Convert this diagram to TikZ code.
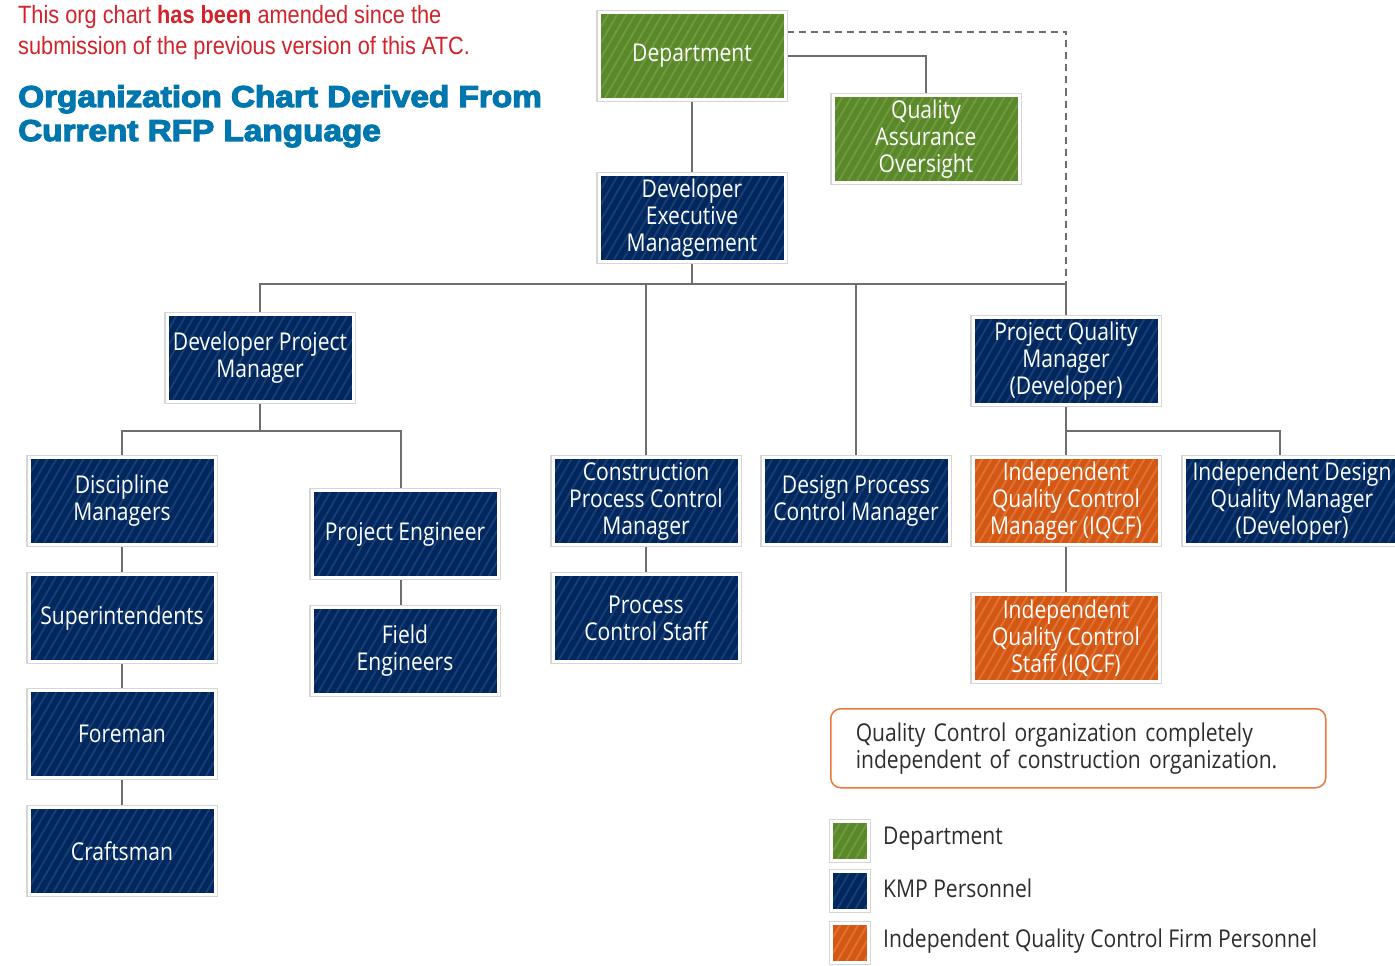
\documentclass[tikz,border=0pt]{standalone}
\usepackage{fontspec}
\setmainfont{Liberation Sans}
\newfontfamily\boxfont[FakeStretch=0.86]{Open Sans}
\newfontfamily\redfont[FakeStretch=0.87]{Liberation Sans}
\newfontfamily\titlefont[BoldFeatures={FakeBold=4,FakeStretch=1.11}]{Liberation Sans}
\usetikzlibrary{shadows}
\pgfdeclarelayer{background}
\pgfsetlayers{background,main}

\definecolor{deptgreen}{RGB}{90,136,42}
\definecolor{deptstripe}{RGB}{110,155,60}
\definecolor{kmpnavy}{RGB}{0,40,94}
\definecolor{kmpstripe}{RGB}{24,62,116}
\definecolor{iqcorange}{RGB}{212,88,20}
\definecolor{iqcstripe}{RGB}{224,114,52}
\definecolor{linegray}{RGB}{110,110,110}
\definecolor{notered}{RGB}{210,35,42}
\definecolor{titleblue}{RGB}{0,118,175}
\definecolor{noteorange}{RGB}{232,120,60}
\definecolor{legendtext}{RGB}{45,45,45}

\tikzset{
  orgbox/.style={draw=white, line width=3pt, minimum width=186pt, minimum height=87pt,
    inner sep=0pt, align=center, text=white,
    font=\boxfont\fontsize{24.5}{27}\selectfont,
    preaction={draw=black!16, line width=5.5pt},
    drop shadow={shadow xshift=1.5pt, shadow yshift=-1.5pt, opacity=0.25, fill=black!60}},
  stripes/.style={path picture={
    \foreach \i in {-130,-121,...,240}
      \draw[line width=1.9pt,#1] ([xshift=\i pt]path picture bounding box.south west) -- ++(130pt,225pt);}},
  dept/.style={orgbox, fill=deptgreen, stripes=deptstripe},
  kmp/.style={orgbox, fill=kmpnavy, stripes=kmpstripe},
  iqcf/.style={orgbox, fill=iqcorange, stripes=iqcstripe},
  swatch/.style={minimum width=37pt, minimum height=39pt},
  legendlabel/.style={anchor=west, inner sep=0pt, text=legendtext,
    font=\boxfont\fontsize{24.5}{27}\selectfont},
  conn/.style={draw=linegray, line width=1.4pt},
}

\begin{document}
\begin{tikzpicture}[x=1pt,y=-1pt]
\useasboundingbox (0,0) rectangle (1395,966);
\begin{pgfonlayer}{background}
  \fill[white] (0,0) rectangle (1395,966);
\end{pgfonlayer}

% heading
\node[anchor=north west, inner sep=0pt, align=left, text=notered,
      font=\redfont\fontsize{25}{31}\selectfont] (amend) at (18,5)
  {This org chart \textbf{has been} amended since the\\submission of the previous version of this ATC.};
\node[anchor=north west, inner sep=0pt, align=left, text=titleblue,
      font=\titlefont\bfseries\fontsize{30}{34}\selectfont] (title) at (18,85)
  {Organization Chart Derived From\\Current RFP Language};

% top of the organization
\node[dept] (dept) at (692,56) {Department};
\node[dept] (qao) at (926,139) {Quality\\Assurance\\Oversight};
\node[kmp] (dem) at (692,218) {Developer\\Executive\\Management};

% second tier
\node[kmp] (dpm) at (260,358) {Developer Project\\Manager};
\node[kmp] (pqm) at (1066,361) {Project Quality\\Manager\\(Developer)};

% third tier
\node[kmp] (dm) at (122,501) {Discipline\\Managers};
\node[kmp] (pe) at (405,534) {Project Engineer};
\node[kmp] (cpcm) at (646,501) {Construction\\Process Control\\Manager};
\node[kmp] (dpcm) at (856,501) {Design Process\\Control Manager};
\node[iqcf] (iqcm) at (1066,501) {Independent\\Quality Control\\Manager (IQCF)};
\node[kmp, minimum width=216pt] (idqm) at (1292,501) {Independent Design\\Quality Manager\\(Developer)};

% lower tiers
\node[kmp] (sup) at (122,618) {Superintendents};
\node[kmp] (fe) at (405,651) {Field\\Engineers};
\node[kmp] (pcs) at (646,618) {Process\\Control Staff};
\node[iqcf] (iqcs) at (1066,638) {Independent\\Quality Control\\Staff (IQCF)};
\node[kmp] (fore) at (122,734) {Foreman};
\node[kmp] (craft) at (122,851) {Craftsman};

% remark box
\node[draw=noteorange, line width=1.5pt, rounded corners=10pt, anchor=north west,
      minimum width=495pt, minimum height=79pt, inner xsep=25pt, inner ysep=0pt,
      text width=445pt, align=left, text=legendtext,
      font=\boxfont\fontsize{24.5}{27}\selectfont] (remark) at (830,708)
  {Quality Control organization completely\\independent of construction organization.};

% legend
\node[dept, swatch] (lgdept) at (850,841) {};
\node[kmp, swatch] (lgkmp) at (850,891) {};
\node[iqcf, swatch] (lgiqcf) at (850,943) {};
\node[legendlabel] (lgdepttxt) at (883,839) {Department};
\node[legendlabel] (lgkmptxt) at (883,888) {KMP Personnel};
\node[legendlabel] (lgiqcftxt) at (883,941) {Independent Quality Control Firm Personnel};

% reporting lines
\coordinate (busR) at (1066,284);
\coordinate (dpmbus) at (260,431);
\coordinate (pqmbus) at (1066,431);
\begin{pgfonlayer}{background}
  \draw[conn] (dept.south) -- (dem.north);
  \draw[conn] (dept.east) -| (qao.north);
  \draw[conn, dash pattern=on 7pt off 5pt] ([yshift=24pt]dept.east) -| (busR);
  \draw[conn] (dem.south) -- (dem.south |- busR);
  \draw[conn] (dpm.north) |- (busR) -- (pqm.north);
  \draw[conn] (cpcm.north) -- (cpcm.north |- busR);
  \draw[conn] (dpcm.north) -- (dpcm.north |- busR);
  \draw[conn] (dpm.south) -- (dpmbus);
  \draw[conn] (dm.north) |- (dpmbus) -| ([xshift=-4pt]pe.north);
  \draw[conn] (pqm.south) -- (iqcm.north);
  \draw[conn] (pqmbus) -| ([xshift=-12pt]idqm.north);
  \draw[conn] (dm.south) -- (sup.north);
  \draw[conn] (sup.south) -- (fore.north);
  \draw[conn] (fore.south) -- (craft.north);
  \draw[conn] ([xshift=-4pt]pe.south) -- ([xshift=-4pt]fe.north);
  \draw[conn] (cpcm.south) -- (pcs.north);
  \draw[conn] (iqcm.south) -- (iqcs.north);
\end{pgfonlayer}
\end{tikzpicture}
\end{document}
